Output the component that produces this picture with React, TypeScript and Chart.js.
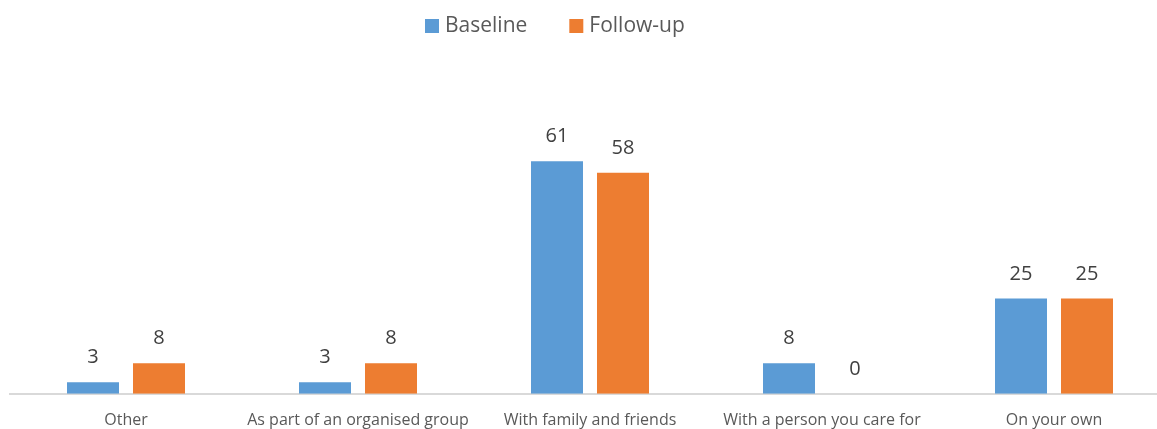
import React, { useEffect, useRef } from "react";
import { Chart, registerables } from "chart.js";

Chart.register(...registerables);

const categories = [
  "Other",
  "As part of an organised group",
  "With family and friends",
  "With a person you care for",
  "On your own",
];
const baseline = [3, 3, 61, 8, 25];
const followUp = [8, 8, 58, 0, 25];
const seriesNames = ["Baseline", "Follow-up"];
const colors = ["#5B9BD5", "#ED7D31"];

const FONT = "'Open Sans', 'Noto Sans', sans-serif";
const TEXT = "#595959";
const LABEL_TEXT = "#404040";

const legendPlugin = {
  id: "customLegend",
  afterDraw(chart: any) {
    const ctx = chart.ctx;
    ctx.save();
    ctx.font = `21px ${FONT}`;
    ctx.textBaseline = "middle";
    ctx.textAlign = "left";
    let x = 425;
    const cy = 26;
    seriesNames.forEach((name, i) => {
      ctx.fillStyle = colors[i];
      ctx.fillRect(x, cy - 7, 14, 14);
      x += 20;
      ctx.fillStyle = TEXT;
      ctx.fillText(name, x, cy);
      x += ctx.measureText(name).width + 42;
    });
    ctx.restore();
  },
};

const labelPlugin = {
  id: "valueLabels",
  afterDatasetsDraw(chart: any) {
    const ctx = chart.ctx;
    ctx.save();
    ctx.font = `20px ${FONT}`;
    ctx.fillStyle = LABEL_TEXT;
    ctx.textAlign = "center";
    ctx.textBaseline = "alphabetic";
    chart.data.datasets.forEach((ds: any, di: number) => {
      const meta = chart.getDatasetMeta(di);
      meta.data.forEach((bar: any, i: number) => {
        const v = ds.data[i];
        ctx.fillText(String(v), bar.x, bar.y - 19);
      });
    });
    ctx.restore();
  },
};

export default function App() {
  const ref = useRef<HTMLCanvasElement | null>(null);
  useEffect(() => {
    document.body.style.margin = "0";
    document.body.style.overflow = "hidden";
    const chart = new Chart(ref.current as HTMLCanvasElement, {
      type: "bar",
      data: {
        labels: categories,
        datasets: [
          { label: seriesNames[0], data: baseline, backgroundColor: colors[0] },
          { label: seriesNames[1], data: followUp, backgroundColor: colors[1] },
        ],
      },
      options: {
        animation: false,
        responsive: false,
        maintainAspectRatio: false,
        layout: { padding: { left: 10, right: 0, top: 127, bottom: 1 } },
        datasets: {
          bar: { categoryPercentage: 132 / 232, barPercentage: 52 / 66 },
        },
        plugins: {
          legend: { display: false },
          tooltip: { enabled: false },
        },
        scales: {
          x: {
            grid: { display: false, drawTicks: false },
            border: { display: true, color: "#D9D9D9", width: 2 },
            ticks: {
              color: TEXT,
              font: { family: FONT, size: 16 },
              padding: 17,
              maxRotation: 0,
              autoSkip: false,
            },
          },
          y: { display: false, min: 0, max: 70 },
        },
      },
      plugins: [legendPlugin, labelPlugin],
    });
    return () => chart.destroy();
  }, []);
  return (
    <div style={{ width: 1157, height: 429, overflow: "hidden" }}>
      <canvas ref={ref} width={1170} height={448} style={{ display: "block" }} />
    </div>
  );
}
